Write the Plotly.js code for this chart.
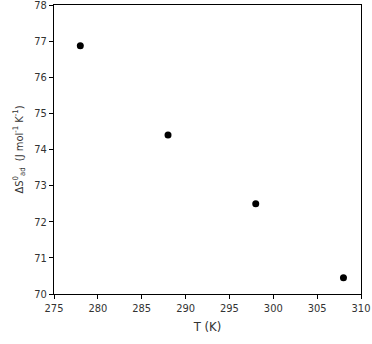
<!DOCTYPE html>
<html><head><meta charset="utf-8">
<script src="https://cdn.plot.ly/plotly-3.0.1.min.js"></script>
<style>html,body{margin:0;padding:0;background:#fff}#c{width:372px;height:344px}</style>
</head><body><div id="c"></div>
<script>
const temperatures = [278, 288, 298, 308];
const entropy = [76.87, 74.4, 72.5, 70.45];
const xTicks = [275, 280, 285, 290, 295, 300, 305, 310];
const yTicks = [70, 71, 72, 73, 74, 75, 76, 77, 78];

const fontFam = '"DejaVu Sans Condensed", "Liberation Sans Narrow", "Arial Narrow", sans-serif';
Plotly.newPlot('c', [{
  x: temperatures, y: entropy, type: 'scatter', mode: 'markers',
  marker: {color: '#000', size: 7}
}], {
  width: 372, height: 344,
  margin: {l: 54, r: 11, t: 5, b: 50},
  paper_bgcolor: '#fff', plot_bgcolor: '#fff',
  showlegend: false,
  font: {family: fontFam, size: 11, color: '#333'},
  xaxis: {range: [275, 310], tickvals: xTicks, ticktext: xTicks.map(String),
    showgrid: false, zeroline: false, showline: true, mirror: true, linecolor: '#000', linewidth: 1,
    ticks: 'outside', ticklen: 4, tickcolor: '#000', ticklabeloverflow: 'allow',
    title: {text: 'T (K)', font: {size: 13, family: fontFam}, standoff: 7}},
  yaxis: {range: [70, 78], tickvals: yTicks, ticktext: yTicks.map(String),
    showgrid: false, zeroline: false, showline: true, mirror: true, linecolor: '#000', linewidth: 1,
    ticks: 'outside', ticklen: 4, tickcolor: '#000', ticklabeloverflow: 'allow',
    title: {text: 'ΔS<sup>0</sup><sub>ad</sub>  (J mol<sup>-1</sup> K<sup>-1</sup>)', font: {size: 11, family: fontFam}, standoff: 8}}
}, {displayModeBar: false, staticPlot: true});
</script></body></html>
